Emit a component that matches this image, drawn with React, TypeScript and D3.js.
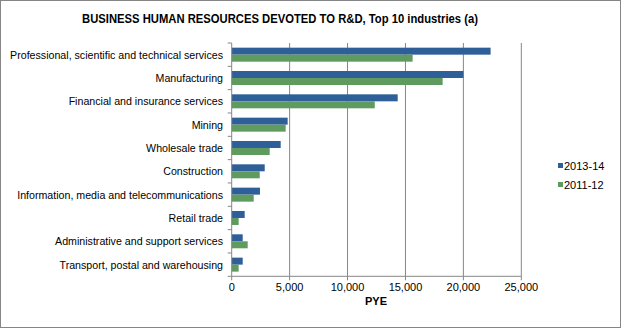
import React from "react";
import * as d3 from "d3";

const categories = [
  "Professional, scientific and technical services",
  "Manufacturing",
  "Financial and insurance services",
  "Mining",
  "Wholesale trade",
  "Construction",
  "Information, media and telecommunications",
  "Retail trade",
  "Administrative and support services",
  "Transport, postal and warehousing",
];
const series2013 = [22350, 20000, 14330, 4830, 4230, 2850, 2440, 1120, 950, 950];
const series2011 = [15620, 18210, 12350, 4660, 3280, 2420, 1900, 600, 1380, 600];
const seriesNames = ["2013-14", "2011-12"];
const xTicks = [0, 5000, 10000, 15000, 20000, 25000];

const W = 621;
const H = 328;
const left = 231.7;
const right = 521.3;
const top = 43;
const bottom = 276.3;
const colors = ["#2F5F98", "#5F9A5F"];
const font = "'Liberation Sans', Arial, sans-serif";

export default function App() {
  const x = d3.scaleLinear().domain([0, 25000]).range([left, right]);
  const y = d3.scaleBand<string>().domain(categories).range([top, bottom]).paddingInner(0.4).paddingOuter(0.2);
  const sub = d3.scaleBand<string>().domain(seriesNames).range([0, y.bandwidth()]);
  const fmt = d3.format(",");
  const data = [series2013, series2011];
  const step = (bottom - top) / categories.length;
  return (
    <svg width={W} height={H} style={{ position: "absolute", left: 0, top: 0, background: "#fff" }} fontFamily={font}>
      <rect x={0.5} y={0.5} width={W - 1} height={H - 1} fill="#fff" stroke="#868686" />
      <text x={280} y={23} textAnchor="middle" fontWeight="bold" fontSize={13} textLength={396} lengthAdjust="spacingAndGlyphs" fill="#000">
        BUSINESS HUMAN RESOURCES DEVOTED TO R&amp;D, Top 10 industries (a)
      </text>
      {xTicks.map((t) => (
        <g key={t}>
          {t > 0 && <line x1={x(t)} x2={x(t)} y1={top} y2={bottom} stroke="#868686" strokeWidth={1} />}
          <line x1={x(t)} x2={x(t)} y1={bottom} y2={bottom + 4} stroke="#868686" />
          <text x={x(t)} y={291} textAnchor="middle" fontSize={11} fill="#000">{fmt(t)}</text>
        </g>
      ))}
      {categories.map((c, i) => (
        <g key={c}>
          {data.map((s, j) => (
            <rect key={j} x={x(0)} y={(y(c) as number) + (sub(seriesNames[j]) as number)} width={x(s[i]) - x(0)} height={sub.bandwidth()} fill={colors[j]} />
          ))}
          <text x={223} y={(y(c) as number) + y.bandwidth() / 2 + 4} textAnchor="end" fontSize={10.65} fill="#000">{c}</text>
        </g>
      ))}
      {d3.range(categories.length + 1).map((i) => (
        <line key={i} x1={left - 4} x2={left} y1={top + i * step} y2={top + i * step} stroke="#868686" />
      ))}
      <line x1={left} x2={left} y1={top} y2={bottom} stroke="#868686" />
      <line x1={left} x2={right} y1={bottom} y2={bottom} stroke="#868686" />
      <text x={376} y={305} textAnchor="middle" fontWeight="bold" fontSize={11} fill="#000">PYE</text>
      {seriesNames.map((n, j) => (
        <g key={n}>
          <rect x={558} y={163 + j * 19} width={5} height={5} fill={colors[j]} />
          <text x={564} y={170 + j * 19} fontSize={11} fill="#000">{n}</text>
        </g>
      ))}
    </svg>
  );
}
